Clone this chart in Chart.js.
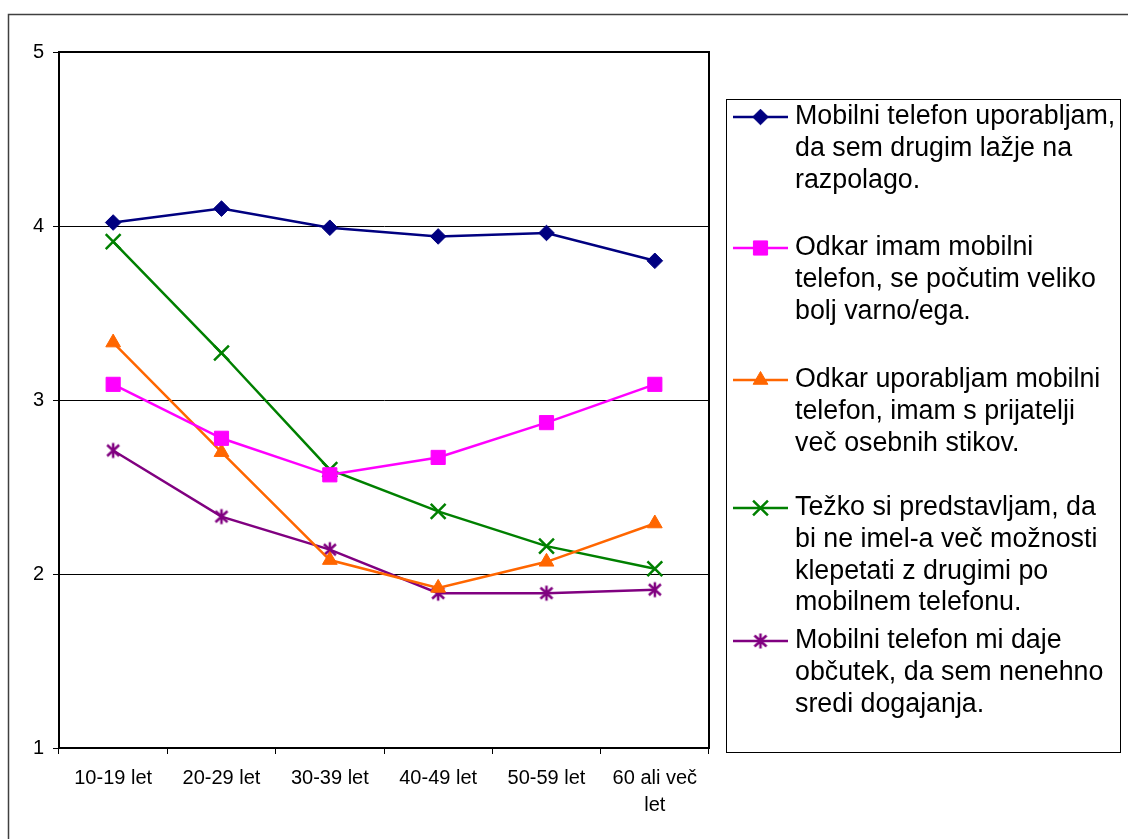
<!DOCTYPE html>
<html>
<head>
<meta charset="utf-8">
<script src="https://cdn.jsdelivr.net/npm/chart.js@4"></script>
<style>
html,body{margin:0;padding:0;background:#fff;}
canvas{display:block;}
</style>
</head>
<body>
<canvas id="c" width="1129" height="839"></canvas>
<script>
const categories = ["10-19 let", "20-29 let", "30-39 let", "40-49 let", "50-59 let", ["60 ali več", "let"]];
const yTicks = [1, 2, 3, 4, 5];

const seriesNames = [
  "Mobilni telefon uporabljam, da sem drugim lažje na razpolago.",
  "Odkar imam mobilni telefon, se počutim veliko bolj varno/ega.",
  "Odkar uporabljam mobilni telefon, imam s prijatelji več osebnih stikov.",
  "Težko si predstavljam, da bi ne imel-a več možnosti klepetati z drugimi po mobilnem telefonu.",
  "Mobilni telefon mi daje občutek, da sem nenehno sredi dogajanja."
];
const legendLines = [
  ["Mobilni telefon uporabljam,", "da sem drugim lažje na", "razpolago."],
  ["Odkar imam mobilni", "telefon, se počutim veliko", "bolj varno/ega."],
  ["Odkar uporabljam mobilni", "telefon, imam s prijatelji", "več osebnih stikov."],
  ["Težko si predstavljam, da", "bi ne imel-a več možnosti", "klepetati z drugimi po", "mobilnem telefonu."],
  ["Mobilni telefon mi daje", "občutek, da sem nenehno", "sredi dogajanja."]
];

const valuesAvailable = [4.02, 4.10, 3.99, 3.94, 3.96, 3.80];
const valuesSafer     = [3.09, 2.78, 2.57, 2.67, 2.87, 3.09];
const valuesContacts  = [3.33, 2.70, 2.08, 1.92, 2.07, 2.29];
const valuesChatting  = [3.91, 3.27, 2.60, 2.36, 2.16, 2.03];
const valuesInvolved  = [2.71, 2.33, 2.14, 1.89, 1.89, 1.91];

const seriesValues = [valuesAvailable, valuesSafer, valuesContacts, valuesChatting, valuesInvolved];
const colors = ["#000080", "#FF00FF", "#FF6600", "#008000", "#800080"];

// Excel-like asterisk marker: vertical line + X
function makeStar(color) {
  const c = document.createElement('canvas');
  c.width = 18; c.height = 18;
  const g = c.getContext('2d');
  g.strokeStyle = color;
  g.lineWidth = 2.5;
  g.beginPath();
  g.moveTo(9, 1.5); g.lineTo(9, 16.5);
  g.moveTo(3, 3.5); g.lineTo(15, 14.5);
  g.moveTo(15, 3.5); g.lineTo(3, 14.5);
  g.stroke();
  return c;
}
const starMarker = makeStar("#800080");

const pointStyles = ["rectRot", "rect", "triangle", "crossRot", starMarker];
const pointRadii = [7.8, 10, 8.5, 10.5, 8.5];

const FONT = "'Liberation Sans', Arial, sans-serif";

const datasets = seriesValues.map((vals, i) => ({
  label: seriesNames[i],
  data: vals,
  borderColor: colors[i],
  backgroundColor: colors[i],
  borderWidth: 2.5,
  pointStyle: pointStyles[i],
  pointRadius: pointRadii[i],
  pointBorderWidth: (i >= 3) ? 2.5 : 1,
  pointBackgroundColor: colors[i],
  pointBorderColor: colors[i],
  tension: 0,
  fill: false
}));

const framePlugin = {
  id: 'frame',
  beforeDraw(chart) {
    const ctx = chart.ctx;
    ctx.save();
    ctx.fillStyle = '#fff';
    ctx.fillRect(0, 0, chart.width, chart.height);
    ctx.strokeStyle = '#404040';
    ctx.lineWidth = 1.5;
    ctx.beginPath();
    ctx.moveTo(8.5, 839);
    ctx.lineTo(8.5, 14.5);
    ctx.lineTo(1128, 14.5);
    ctx.stroke();
    ctx.restore();
  },
  afterDraw(chart) {
    const ctx = chart.ctx;
    const a = chart.chartArea;
    ctx.save();
    ctx.strokeStyle = '#000';
    ctx.lineWidth = 2;
    ctx.strokeRect(a.left, a.top, a.right - a.left, a.bottom - a.top);

    // legend box
    ctx.lineWidth = 1;
    ctx.strokeRect(726.5, 99.5, 394, 653);
    const entryY = [117, 248, 380, 508, 641];
    const lineH = 31.6;
    ctx.textBaseline = 'middle';
    legendLines.forEach((lines, i) => {
      const y = entryY[i];
      ctx.strokeStyle = colors[i];
      ctx.fillStyle = colors[i];
      ctx.lineWidth = 2.5;
      ctx.beginPath();
      ctx.moveTo(733, y);
      ctx.lineTo(788, y);
      ctx.stroke();
      ctx.lineWidth = datasets[i].pointBorderWidth;
      Chart.helpers.drawPoint(ctx, {
        pointStyle: pointStyles[i],
        radius: pointRadii[i],
        borderWidth: datasets[i].pointBorderWidth,
        rotation: 0
      }, 760.5, y);
      ctx.fillStyle = '#000';
      ctx.font = "26.8px " + FONT;
      lines.forEach((t, k) => {
        ctx.fillText(t, 795, y + k * lineH);
      });
    });
    ctx.restore();
  }
};

new Chart(document.getElementById('c'), {
  type: 'line',
  data: { labels: categories, datasets },
  plugins: [framePlugin],
  options: {
    responsive: false,
    devicePixelRatio: 1,
    animation: false,
    events: [],
    layout: { padding: { top: 52, right: 420, left: 0, bottom: 0 } },
    plugins: { legend: { display: false }, tooltip: { enabled: false } },
    scales: {
      x: {
        type: 'category',
        offset: true,
        afterFit(scale) { scale.height = 91; },
        border: { display: true, color: '#000', width: 2 },
        grid: { display: true, drawOnChartArea: false, drawTicks: true, tickLength: 6, color: '#000', offset: true },
        ticks: { color: '#000', font: { family: FONT, size: 20, lineHeight: 1.35 }, padding: 11, maxRotation: 0, autoSkip: false }
      },
      y: {
        min: 1, max: 5,
        afterFit(scale) { scale.width = 59; },
        afterBuildTicks(scale) { scale.ticks = yTicks.map(v => ({ value: v })); },
        border: { display: true, color: '#000', width: 2 },
        grid: { color: '#000', lineWidth: 1, tickLength: 6 },
        ticks: { color: '#000', font: { family: FONT, size: 20 }, padding: 9 }
      }
    }
  }
});
</script>
</body>
</html>
